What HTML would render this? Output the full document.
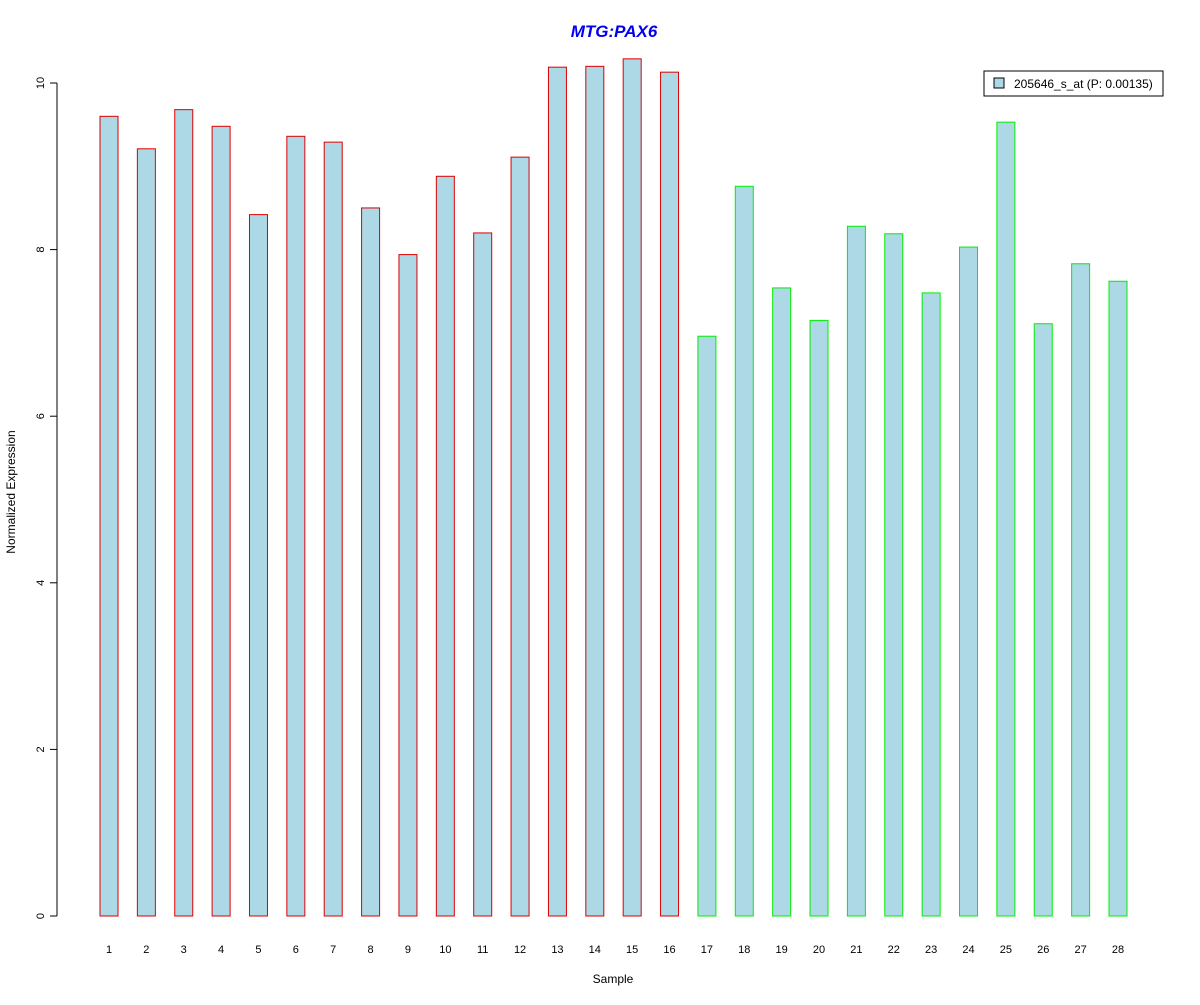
<!DOCTYPE html>
<html><head><meta charset="utf-8"><style>
body{margin:0;background:#fff;}
svg text{font-family:"Liberation Sans",Arial,sans-serif;}
</style></head><body>
<svg id="chart" width="1200" height="1000" xmlns="http://www.w3.org/2000/svg">
<rect width="1200" height="1000" fill="#fff"/>
<text x="614" y="37" text-anchor="middle" font-size="17" font-weight="bold" font-style="italic" fill="#0000ee">MTG:PAX6</text>
<text x="613" y="983" text-anchor="middle" font-size="12">Sample</text>
<text transform="translate(15,492) rotate(-90)" text-anchor="middle" font-size="12">Normalized Expression</text>
<g id="yaxis"></g>
<g id="bars"></g>
<g id="xlabels"></g>
<g>
<rect x="984" y="71" width="179" height="25" fill="#fff" stroke="#000"/>
<rect x="994" y="78" width="10" height="10" fill="#add8e6" stroke="#000"/>
<text x="1014" y="88" font-size="12">205646_s_at (P: 0.00135)</text>
</g>
</svg>
<script>
const categories=[1,2,3,4,5,6,7,8,9,10,11,12,13,14,15,16,17,18,19,20,21,22,23,24,25,26,27,28];
const values=[9.60,9.21,9.68,9.48,8.42,9.36,9.29,8.50,7.94,8.88,8.20,9.11,10.19,10.20,10.29,10.13,6.96,8.76,7.54,7.15,8.28,8.19,7.48,8.03,9.53,7.11,7.83,7.62];
const groups=["a","a","a","a","a","a","a","a","a","a","a","a","a","a","a","a","b","b","b","b","b","b","b","b","b","b","b","b"];
const yTicks=[0,2,4,6,8,10];
const NS="http://www.w3.org/2000/svg";
function y(v){return 916-v*83.3;}
function x(i){return 109+i*37.37;}
function mk(t,a,p){const e=document.createElementNS(NS,t);for(const k in a)e.setAttribute(k,a[k]);p.appendChild(e);return e;}
const ya=document.getElementById('yaxis');
mk('line',{x1:57,x2:57,y1:y(0),y2:y(10),stroke:'#000'},ya);
yTicks.forEach(t=>{
 const l=mk('line',{x1:50,x2:57,y1:y(t),y2:y(t),stroke:'#000'},ya);
 
 
 const tx=mk('text',{transform:`translate(44,${y(t)}) rotate(-90)`,'text-anchor':'middle','font-size':11},ya);
 tx.textContent=t;
 
 
});
const bg=document.getElementById('bars'),xl=document.getElementById('xlabels');
values.forEach((v,i)=>{
 const r=mk('rect',{x:x(i)-9,y:y(v),width:18,height:y(0)-y(v),fill:'#add8e6',stroke:groups[i]==='a'?'#dd0000':'#00ee00'},bg);
 
 
 const t=mk('text',{x:x(i),y:953,'text-anchor':'middle','font-size':11},xl);
 t.textContent=categories[i];
 
 
});
</script>
</body></html>
